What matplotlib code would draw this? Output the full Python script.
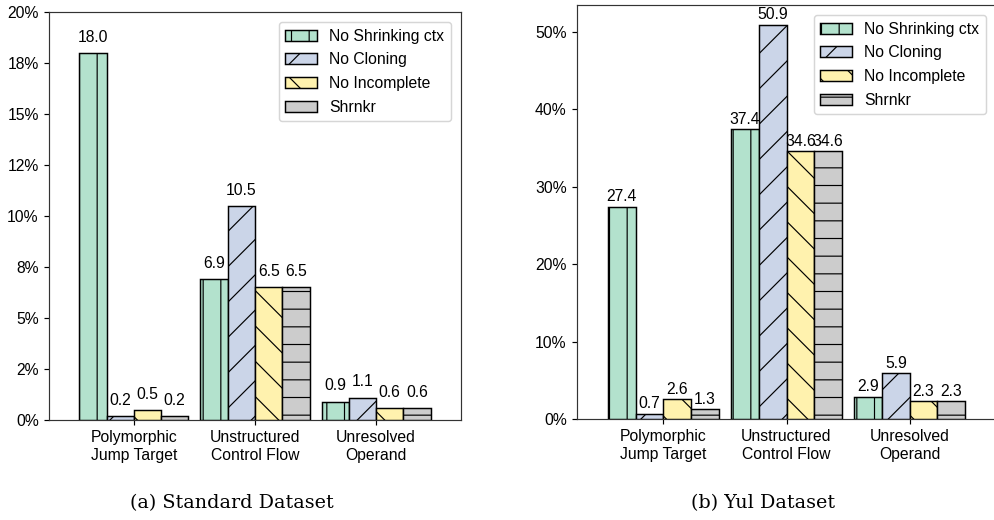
import matplotlib.pyplot as plt
from matplotlib.ticker import StrMethodFormatter
import numpy as np

categories = ["Polymorphic\nJump Target", "Unstructured\nControl Flow", "Unresolved\nOperand"]
series = ["No Shrinking ctx", "No Cloning", "No Incomplete", "Shrnkr"]

# error rates (%) per category
standard_no_shrinking = [18.0, 6.9, 0.9]
standard_no_cloning = [0.2, 10.5, 1.1]
standard_no_incomplete = [0.5, 6.5, 0.6]
standard_shrnkr = [0.2, 6.5, 0.6]

yul_no_shrinking = [27.4, 37.4, 2.9]
yul_no_cloning = [0.7, 50.9, 5.9]
yul_no_incomplete = [2.6, 34.6, 2.3]
yul_shrnkr = [1.3, 34.6, 2.3]

colors = ["#b3e2cd", "#cbd5e8", "#fff2ae", "#cccccc"]
hatches = ["|", "/", "\\", "-"]

DPI = 106
plt.rcParams["font.family"] = ["Liberation Sans", "DejaVu Sans"]
plt.rcParams["font.size"] = 10.7
plt.rcParams["hatch.linewidth"] = 0.8
plt.rcParams["axes.edgecolor"] = "#333333"


def draw_panel(ax, data, pad):
    x = np.arange(len(categories))
    width = 0.225
    for i, vals in enumerate(data):
        pos = x + (i - 1.5) * width
        ax.bar(pos, vals, width, color=colors[i], edgecolor="black", linewidth=1.0,
               hatch=hatches[i], label=series[i], zorder=3)
        for px, v in zip(pos, vals):
            ax.text(px, v + pad, f"{v:.1f}", ha="center", va="bottom", zorder=3)
    ax.set_xticks(x)
    ax.set_xticklabels(categories)
    ax.set_xlim(-0.7, 2.7)
    ax.yaxis.set_major_formatter(StrMethodFormatter("{x:.0f}%"))
    ax.legend(loc="upper right", labelspacing=0.55, borderaxespad=0.65)


fig = plt.figure(figsize=(994 / DPI, 520 / DPI), dpi=DPI)
ax1 = fig.add_axes([49 / 994, 100 / 520, 412 / 994, 408 / 520])
ax2 = fig.add_axes([577 / 994, 101 / 520, 419 / 994, 414 / 520])

draw_panel(ax1, [standard_no_shrinking, standard_no_cloning, standard_no_incomplete, standard_shrnkr], 0.4)
ax1.set_ylim(0, 20)
draw_panel(ax2, [yul_no_shrinking, yul_no_cloning, yul_no_incomplete, yul_shrnkr], 0.3)

fig.text(232 / 994, 1 - 503 / 520, "(a) Standard Dataset", ha="center", va="center",
         family="DejaVu Serif", fontsize=13)
fig.text(763 / 994, 1 - 503 / 520, "(b) Yul Dataset", ha="center", va="center",
         family="DejaVu Serif", fontsize=13)

fig.savefig("out.png", dpi=DPI)
